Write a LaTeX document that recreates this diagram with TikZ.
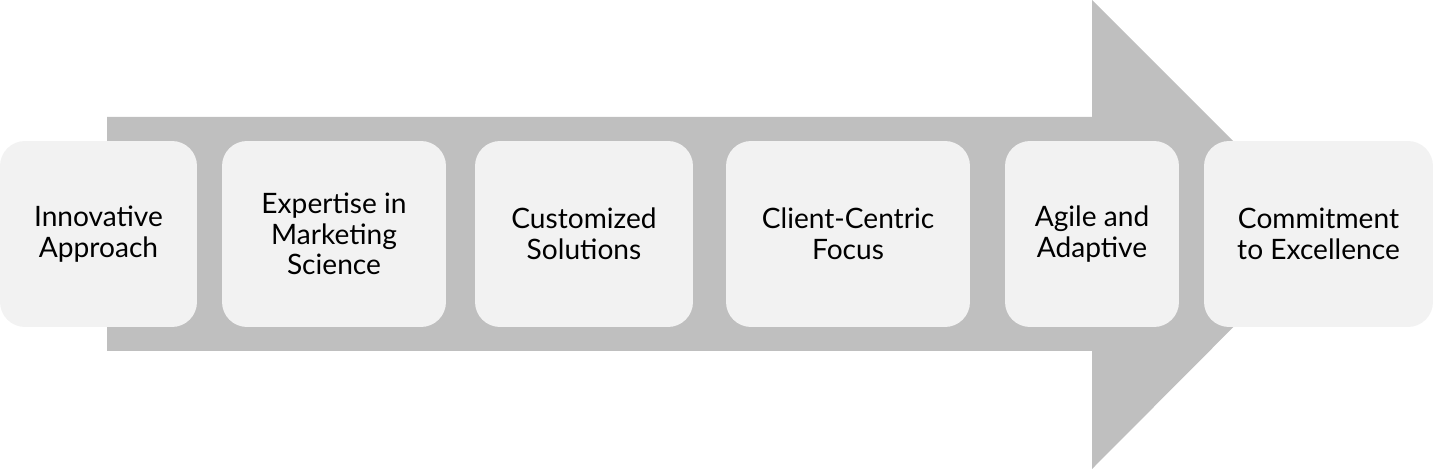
\documentclass[tikz,border=0pt]{standalone}
\usepackage{fontspec}
\setmainfont{Lato}
\definecolor{arrowgray}{HTML}{BFBFBF}
\definecolor{boxgray}{HTML}{F2F2F2}
\begin{document}
\begin{tikzpicture}[x=0.02cm,y=-0.02cm]
        \tikzset{stepbox/.style={fill=boxgray, rounded corners=0.5cm, align=center,
            minimum height=3.72cm, inner sep=0pt, font=\fontsize{16}{17.5}\selectfont}}
        \useasboundingbox (0,0) rectangle (1440,469);

%%% big arrow
        \fill[arrowgray] (107,117) -- (1092,117) -- (1092,0) -- (1326,234)
            -- (1092,469) -- (1092,351) -- (107,351) -- cycle;

%%% boxes
        \node [stepbox, minimum width=3.94cm] (innov) at (98.5,234) {Innovative\\Approach};
        \node [stepbox, minimum width=4.48cm] (expert) at (334,234) {Expertise in\\Marketing\\Science};
        \node [stepbox, minimum width=4.36cm] (custom) at (584,234) {Customized\\Solutions};
        \node [stepbox, minimum width=4.88cm] (client) at (848,234) {Client-Centric\\Focus};
        \node [stepbox, minimum width=3.48cm] (agile) at (1092,234) {Agile and\\Adaptive};
        \node [stepbox, minimum width=4.58cm] (commit) at (1318.5,234) {Commitment\\to Excellence};
\end{tikzpicture}
\end{document}
